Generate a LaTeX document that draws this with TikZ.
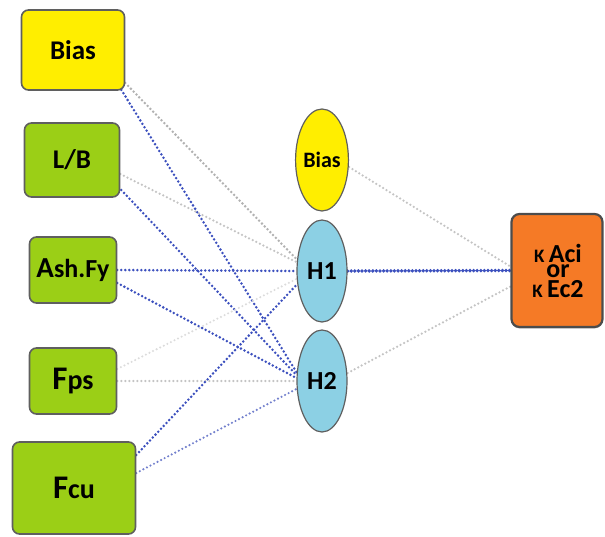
\documentclass[tikz,border=0pt]{standalone}
\usepackage{fontspec}
\setmainfont{Carlito}
\usetikzlibrary{shapes.geometric,shadows}
\definecolor{ybox}{RGB}{255,238,0}
\definecolor{gbox}{RGB}{155,207,22}
\definecolor{cyanell}{RGB}{140,208,228}
\definecolor{obox}{RGB}{245,122,38}
\definecolor{edgegray}{RGB}{95,95,95}
\definecolor{dblue}{RGB}{60,80,190}
\definecolor{lblue}{RGB}{115,128,205}
\definecolor{dgray}{RGB}{178,178,178}
\definecolor{mgray}{RGB}{196,196,196}
\definecolor{lgray}{RGB}{220,220,220}
\pgfdeclarelayer{bg}
\pgfsetlayers{bg,main}
\newcommand{\fsz}[1]{\fontsize{#1}{#1}\selectfont}
\newcommand{\outline}[1]{\hbox to 86pt{\hfil#1\hfil}}
\begin{document}
\begin{tikzpicture}[x=1pt,y=-1pt,
  inbox/.style={draw=edgegray, line width=1.6pt, rounded corners=7pt, inner sep=0pt, font=\bfseries},
  ellnode/.style={ellipse, draw=edgegray, line width=1.2pt, inner sep=0pt, minimum width=50pt, minimum height=102pt, font=\bfseries},
  outtext/.style={inner sep=0pt, anchor=base, font=\bfseries},
  conn/.style={line cap=round, dash pattern=on 0pt off 4pt, line width=2.8pt},
  cblue/.style={conn, draw=dblue},
  clblue/.style={conn, draw=lblue, line width=2.4pt},
  cdgray/.style={conn, draw=dgray},
  cmgray/.style={conn, draw=mgray, line width=2.5pt},
  clgray/.style={conn, draw=lgray, line width=2.3pt},
  cthick/.style={line cap=round, dash pattern=on 0pt off 3.6pt, line width=3.8pt, draw=dblue}
]
\useasboundingbox (0,0) rectangle (605,536);

% input boxes
\node[inbox, fill=ybox, minimum width=103pt, minimum height=80pt] (bias) at (73,50) {\fsz{27}Bias};
\node[inbox, fill=gbox, minimum width=95pt, minimum height=74pt] (lb) at (72,160) {\fsz{27}L/B};
\node[inbox, fill=gbox, minimum width=87pt, minimum height=66pt] (ash) at (73,270) {\fsz{29}A\fsz{26}sh.Fy};
\node[inbox, fill=gbox, minimum width=87pt, minimum height=66pt] (fps) at (73,381) {\fsz{33}F\fsz{28}ps};
\node[inbox, fill=gbox, minimum width=123pt, minimum height=92pt] (fcu) at (74,488) {\fsz{33}F\fsz{28}cu};

% hidden layer
\node[ellnode, fill=ybox] (biasE) at (322,160) {\fsz{22}Bias};
\node[ellnode, fill=cyanell] (H1) at (322,271) {\fsz{26}H1};
\node[ellnode, fill=cyanell] (H2) at (322,381) {\fsz{26}H2};

% output
\node[draw=black!70, line width=2.2pt, rounded corners=8pt, fill=obox, inner sep=0pt,
      minimum width=91pt, minimum height=113pt,
      drop shadow={shadow xshift=0pt, shadow yshift=-1.5pt, fill=black!45}] (out) at (557,270.5) {};
\node[outtext] (outT) at (558,297) {\vbox{\offinterlineskip
    \outline{\fsz{19}K \fsz{26}Aci}\vskip 2.5pt
    \outline{\fsz{26}or}\vskip 2pt
    \outline{\fsz{19}K \fsz{26}Ec2}}};

\begin{pgfonlayer}{bg}
% Bias box
\draw[cdgray] ([yshift=-33pt]bias.east) -- ([yshift=12pt]H1.west);
\draw[cblue] ([xshift=-4pt,yshift=1pt]bias.south east) -- ([yshift=9pt]H2.west);
% L/B
\draw[cmgray] ([yshift=-14pt]lb.east) -- ([yshift=9pt]H1.west);
\draw[cblue] ([xshift=1pt,yshift=-30pt]lb.east) -- ([yshift=6pt]H2.west);
% Ash.Fy
\draw[cblue] (ash.east) -- (H1.west);
\draw[cblue] ([yshift=-13pt]ash.east) -- ([yshift=3pt]H2.west);
% Fps
\draw[clgray] ([yshift=12pt]fps.east) -- ([yshift=-8pt]H1.west);
\draw[cmgray] (fps.east) -- (H2.west);
% Fcu
\draw[cblue] ([yshift=33pt]fcu.east) -- ([yshift=-14pt]H1.west);
\draw[clblue] ([yshift=15pt]fcu.east) -- ([yshift=-8pt]H2.west);
% to output
\draw[cmgray] ([yshift=-7pt]biasE.east) -- ([yshift=4pt]out.west);
\draw[cthick] (H1.east) -- (out.west);
\draw[cmgray] ([yshift=8pt]H2.east) -- ([yshift=-16pt]out.west);
\end{pgfonlayer}
\end{tikzpicture}
\end{document}
